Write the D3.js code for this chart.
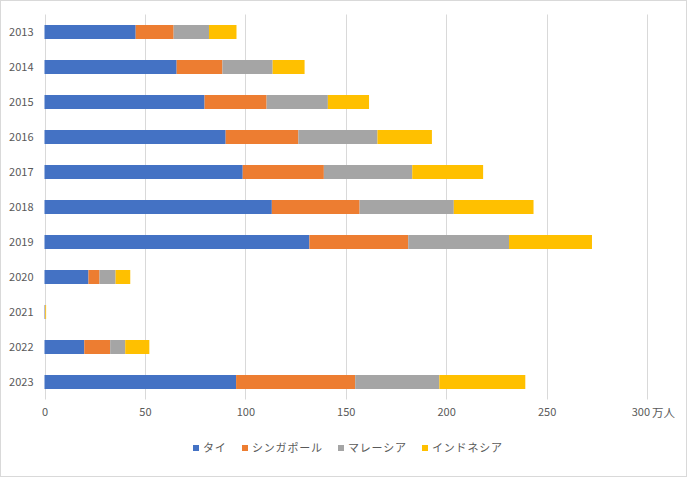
<!DOCTYPE html>
<html><head><meta charset="utf-8">
<script src="https://cdn.jsdelivr.net/npm/d3@7"></script>
<style>body{margin:0;background:#fff;} text{font-family:"Noto Sans CJK JP","Noto Sans",sans-serif;}</style>
</head><body>
<svg id="c" width="687" height="477"></svg>
<script>
const years = ["2013","2014","2015","2016","2017","2018","2019","2020","2021","2022","2023"];
const seriesNames = ["タイ","シンガポール","マレーシア","インドネシア"];
const thai      = [45.4, 65.8, 79.7, 90.2, 98.7, 113.2, 131.9, 21.9, 0.2, 19.8, 95.4];
const singapore = [18.9, 22.8, 30.9, 36.2, 40.4, 43.7, 49.2, 5.5, 0.1, 12.9, 59.3];
const malaysia  = [17.6, 25.0, 30.5, 39.4, 44.0, 46.9, 50.2, 8.0, 0.1, 7.5, 41.9];
const indonesia = [13.7, 15.9, 20.5, 27.1, 35.3, 39.7, 41.3, 7.3, 0.4, 12.0, 42.8];
const xTicks = [0, 50, 100, 150, 200, 250, 300];
const unitLabel = "万人";
const colors = ["#4472C4", "#ED7D31", "#A5A5A5", "#FFC000"];

const svg = d3.select("#c");
svg.append("rect").attr("x",0.5).attr("y",0.5).attr("width",686).attr("height",476)
  .attr("fill","#fff").attr("stroke","#d9d9d9");

const pLeft = 44.5, pRight = 647, pTop = 14.5, pBottom = 399.5;
const x = d3.scaleLinear().domain([0,300]).range([pLeft,pRight]);
const y = d3.scaleBand().domain(years).range([pTop,pBottom]).paddingInner(0.6).paddingOuter(0.3);

// gridlines
svg.append("g").selectAll("line").data(xTicks).join("line")
  .attr("x1",d=>Math.round(x(d))+0.5).attr("x2",d=>Math.round(x(d))+0.5)
  .attr("y1",pTop).attr("y2",pBottom).attr("stroke","#d9d9d9").attr("stroke-width",1);

const rows = years.map((yr,i)=>({year:yr, タイ:thai[i], シンガポール:singapore[i], マレーシア:malaysia[i], インドネシア:indonesia[i]}));
const stack = d3.stack().keys(seriesNames)(rows);

svg.append("g").selectAll("g").data(stack).join("g").attr("fill",(d,i)=>colors[i])
  .selectAll("rect").data(d=>d).join("rect")
  .attr("x",d=>x(d[0])).attr("width",d=>Math.max(0,x(d[1])-x(d[0])))
  .attr("y",d=>y(d.data.year)).attr("height",y.bandwidth());

// y labels
const yAxis = d3.axisLeft(y).tickSize(0).tickPadding(11);
const gy = svg.append("g").attr("transform",`translate(${pLeft},0)`).call(yAxis);
gy.select(".domain").remove();
gy.selectAll("text").attr("fill","#595959").attr("font-size","11px");

// x labels
const xAxis = d3.axisBottom(x).tickValues(xTicks).tickSize(0).tickPadding(9);
const gx = svg.append("g").attr("transform",`translate(0,${pBottom})`).call(xAxis);
gx.select(".domain").remove();
gx.selectAll("text").attr("fill","#595959").attr("font-size","11px");
gx.selectAll(".tick").filter(d=>d===300).select("text").attr("text-anchor","end").attr("dx","2.5");
svg.append("text").attr("x",x(300)+5).attr("y",pBottom+17.5).attr("fill","#595959")
  .attr("font-size","11.5px").text(unitLabel);

// legend
const legendX = [193, 242, 338, 422];
const lg = svg.append("g");
seriesNames.forEach((n,i)=>{
  lg.append("rect").attr("x",legendX[i]).attr("y",445).attr("width",6).attr("height",6).attr("fill",colors[i]);
  lg.append("text").attr("x",legendX[i]+10).attr("y",452).attr("fill","#595959").attr("font-size","11px")
    .attr("letter-spacing","0.8px").text(n);
});
</script>
</body></html>
